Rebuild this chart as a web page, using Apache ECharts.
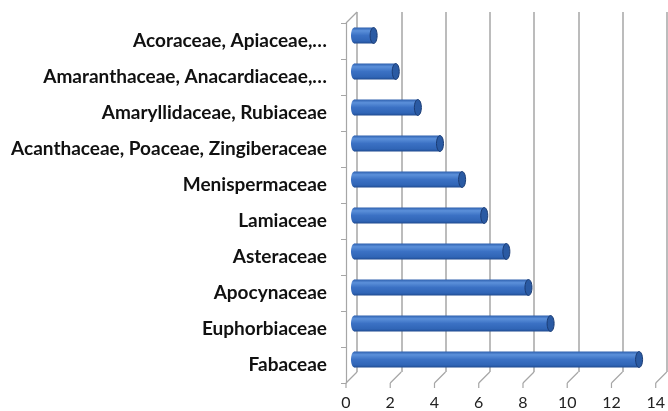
<!DOCTYPE html>
<html>
<head>
<meta charset="utf-8">
<script src="https://cdn.jsdelivr.net/npm/echarts@6/dist/echarts.min.js"></script>
<style>
  html, body { margin: 0; padding: 0; background: #fff; }
  #chart { width: 668px; height: 411px; }
</style>
</head>
<body>
<div id="chart"></div>
<script>
// data, bottom to top
const families = [
  'Fabaceae',
  'Euphorbiaceae',
  'Apocynaceae',
  'Asteraceae',
  'Lamiaceae',
  'Menispermaceae',
  'Acanthaceae, Poaceae, Zingiberaceae',
  'Amaryllidaceae, Rubiaceae',
  'Amaranthaceae, Anacardiaceae,…',
  'Acoraceae, Apiaceae,…'
];
const counts = [13, 9, 8, 7, 6, 5, 4, 3, 2, 1];
const xTicks = [0, 2, 4, 6, 8, 10, 12, 14];

const DEPTH = 11; // 3d wall offset in px

const chart = echarts.init(document.getElementById('chart'));

const barGradient = new echarts.graphic.LinearGradient(0, 0, 0, 1, [
  { offset: 0, color: '#2d5fae' },
  { offset: 0.2, color: '#5b90da' },
  { offset: 0.5, color: '#3b71c4' },
  { offset: 0.85, color: '#3065b6' },
  { offset: 1, color: '#1f4a90' }
]);

function renderBar(params, api) {
  const v = api.value(0);
  const c = api.value(1);
  const start = api.coord([0, c]);
  const end = api.coord([v, c]);
  const h = 16;
  const dx = DEPTH / 2, dy = -DEPTH / 2;
  const x0 = start[0] + dx + 3, x1 = end[0] + dx;
  const cy = start[1] + dy;
  return {
    type: 'group',
    children: [
      { type: 'ellipse', shape: { cx: x0, cy: cy, rx: 3.5, ry: h / 2 }, style: { fill: barGradient } },
      { type: 'rect', shape: { x: x0, y: cy - h / 2, width: x1 - x0, height: h }, style: { fill: barGradient } },
      { type: 'ellipse', shape: { cx: x1, cy: cy, rx: 3.5, ry: h / 2 },
        style: { fill: '#2a5aa3', stroke: '#1b3c74', lineWidth: 1 } }
    ]
  };
}

// floor diagonals from the front axis to the back wall
function renderFloor(params, api) {
  const v = api.value(0);
  const cs = params.coordSys;
  const x = api.coord([v, 0])[0];
  const yb = cs.y + cs.height;
  return {
    type: 'group',
    children: [
      { type: 'line', shape: { x1: x, y1: yb, x2: x + DEPTH, y2: yb - DEPTH },
        style: { stroke: '#a6a6a6', lineWidth: 1.2 } },
      { type: 'line', shape: { x1: x, y1: yb, x2: x, y2: yb + 5 },
        style: { stroke: '#a6a6a6', lineWidth: 1.2 } }
    ]
  };
}

function renderLeftTop(params, api) {
  const cs = params.coordSys;
  return {
    type: 'line',
    shape: { x1: cs.x, y1: cs.y, x2: cs.x + DEPTH, y2: cs.y - DEPTH },
    style: { stroke: '#a6a6a6', lineWidth: 1.2 }
  };
}

chart.setOption({
  animation: false,
  grid: [
    { left: 346, right: 12, top: 23, bottom: 28 },
    { left: 346 + DEPTH, right: 12 - DEPTH, top: 23 - DEPTH, bottom: 28 + DEPTH }
  ],
  xAxis: [
    {
      gridIndex: 0, type: 'value', min: 0, max: 14, interval: 2,
      axisLine: { show: false },
      axisTick: { show: false },
      splitLine: { show: false },
      axisLabel: { margin: 12, fontFamily: 'Lato', fontSize: 16, color: '#222' }
    },
    {
      gridIndex: 1, type: 'value', min: 0, max: 14, interval: 2,
      axisLine: { show: false }, axisTick: { show: false }, axisLabel: { show: false },
      splitLine: { show: true, lineStyle: { color: '#a6a6a6', width: 1.5 } }
    }
  ],
  yAxis: [
    {
      gridIndex: 0, type: 'category', data: families,
      axisLine: { show: true, lineStyle: { color: '#a6a6a6', width: 1.2 } },
      axisTick: { show: true, length: 5, lineStyle: { color: '#a6a6a6' } },
      axisLabel: { margin: 19, fontFamily: 'Lato', fontWeight: 'bold', fontSize: 19, color: '#111' }
    },
    {
      gridIndex: 1, type: 'category', data: families, show: false
    }
  ],
  series: [
    {
      type: 'custom', xAxisIndex: 0, yAxisIndex: 0,
      renderItem: renderFloor,
      data: xTicks.map(t => [t]),
      z: 1
    },
    {
      type: 'custom', xAxisIndex: 0, yAxisIndex: 0,
      renderItem: renderLeftTop,
      data: [[0]],
      z: 1
    },
    {
      type: 'custom', xAxisIndex: 0, yAxisIndex: 0,
      renderItem: renderBar,
      data: counts.map((v, i) => [v, i]),
      z: 3
    }
  ]
});
</script>
</body>
</html>
